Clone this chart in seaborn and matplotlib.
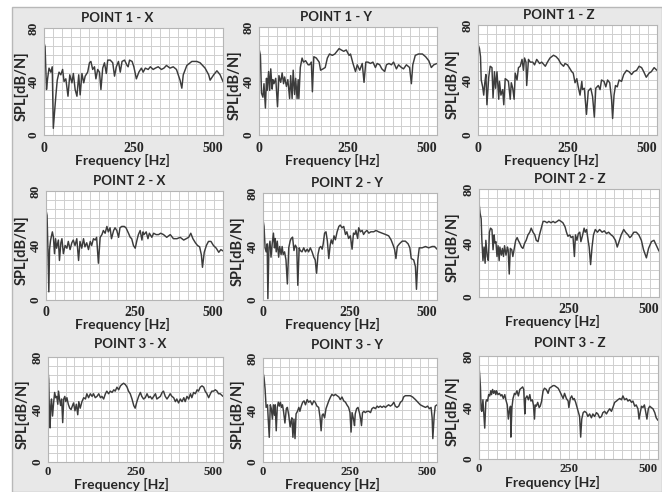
import matplotlib
matplotlib.use("Agg")
import matplotlib.pyplot as plt
from matplotlib.patches import Rectangle
from matplotlib.ticker import MultipleLocator
import matplotlib.transforms as mtransforms
import seaborn as sns

sns.set_style("white")
plt.rcParams["font.family"] = ["Lato", "DejaVu Sans"]

# ---------------- data ----------------
titles = ["POINT 1 - X", "POINT 1 - Y", "POINT 1 - Z",
          "POINT 2 - X", "POINT 2 - Y", "POINT 2 - Z",
          "POINT 3 - X", "POINT 3 - Y", "POINT 3 - Z"]
y_label = "SPL[dB/N]"
x_label = "Frequency [Hz]"
y_ticks = [0, 40, 80]
x_ticks = [0, 250, 500]
x_tick_labels = ["0", "250", "500"]
x_tick_labels_2z = ["", "250", "500"]

f_1x = [0, 3, 7, 10, 14, 19, 23, 26, 33, 37, 42, 47, 52, 56, 61, 67, 72, 78, 82, 87, 92, 97, 101, 106, 111, 115, 122, 127,
        131, 136, 141, 145, 150, 155, 159, 164, 169, 174, 178, 185, 192, 197, 202, 208, 213, 218, 225, 232, 235, 239, 246,
        251, 258, 265, 272, 277, 283, 291, 297, 305, 311, 319, 328, 335, 342, 352, 361, 370, 380, 385, 389, 399, 413, 427,
        436, 450, 460, 464, 474, 483, 492, 500]
s_1x = [69, 66, 34, 42, 50, 47, 51, 5, 29, 41, 47, 45, 49, 40, 42, 29, 45, 39, 46, 34, 29, 45, 30, 46, 39, 44, 47, 54,
        55, 49, 51, 42, 49, 47, 34, 50, 54, 46, 56, 56, 54, 44, 51, 55, 47, 55, 56, 52, 51, 56, 55, 51, 42, 47, 50, 47,
        50, 49, 51, 49, 50, 51, 49, 50, 52, 50, 51, 49, 41, 35, 45, 52, 55, 55, 54, 50, 45, 41, 45, 48, 45, 40]

f_1y = [0, 4, 7, 11, 14, 18, 21, 23, 27, 30, 33, 37, 39, 42, 47, 52, 56, 61, 65, 69, 72, 77, 81, 86, 89, 93, 96, 100,
        103, 107, 110, 112, 116, 121, 125, 131, 138, 142, 147, 150, 154, 161, 169, 173, 180, 186, 192, 198, 206, 213,
        219, 225, 231, 238, 245, 253, 257, 264, 271, 276, 283, 290, 295, 300, 306, 313, 320, 327, 332, 339, 345, 353,
        358, 365, 372, 378, 386, 392, 400, 406, 414, 423, 428, 432, 439, 448, 459, 468, 477, 484, 491, 500]
s_1y = [64, 59, 31, 28, 38, 20, 42, 33, 47, 33, 49, 34, 41, 38, 42, 21, 44, 39, 46, 38, 43, 36, 41, 27, 44, 27, 48, 30,
        42, 27, 41, 27, 50, 57, 54, 55, 52, 52, 54, 32, 58, 57, 54, 48, 49, 50, 57, 60, 59, 60, 62, 64, 63, 62, 63, 59,
        60, 53, 47, 52, 48, 53, 39, 54, 54, 53, 54, 50, 53, 52, 49, 47, 52, 53, 52, 54, 49, 52, 50, 49, 52, 50, 38, 52,
        59, 60, 60, 58, 55, 50, 52, 53]

f_1z = [0, 4, 7, 9, 13, 16, 19, 22, 25, 30, 34, 39, 42, 46, 49, 53, 58, 60, 64, 69, 72, 76, 81, 85, 90, 93, 97, 101,
        104, 109, 113, 118, 123, 127, 130, 134, 136, 141, 146, 153, 158, 164, 172, 178, 188, 194, 201, 211, 218, 225,
        231, 239, 243, 250, 255, 262, 266, 271, 276, 280, 285, 290, 292, 297, 303, 308, 315, 320, 325, 329, 336, 341,
        345, 352, 357, 362, 368, 373, 376, 380, 384, 389, 394, 401, 407, 415, 422, 429, 435, 443, 450, 457, 463, 470,
        478, 484, 492, 500]
s_1z = [66, 63, 57, 40, 35, 29, 38, 44, 22, 42, 50, 49, 27, 46, 34, 46, 26, 39, 29, 33, 22, 41, 40, 39, 26, 38, 34, 26,
        45, 40, 49, 50, 55, 47, 56, 53, 36, 55, 53, 53, 51, 55, 52, 53, 50, 53, 56, 58, 57, 55, 52, 50, 52, 51, 49, 46,
        45, 38, 41, 35, 29, 39, 33, 34, 15, 32, 34, 28, 13, 34, 36, 33, 40, 39, 35, 40, 38, 26, 12, 29, 36, 35, 40, 39,
        44, 47, 46, 44, 46, 47, 50, 49, 46, 42, 45, 46, 49, 47]

f_2x = [0, 3, 5, 8, 10, 13, 18, 21, 24, 27, 30, 35, 38, 42, 45, 49, 54, 59, 63, 68, 73, 77, 82, 87, 92, 96, 101, 106,
        110, 115, 120, 125, 129, 134, 139, 143, 148, 153, 158, 162, 167, 172, 176, 181, 185, 191, 195, 200, 205, 209,
        214, 221, 226, 233, 238, 242, 247, 252, 257, 261, 266, 271, 274, 277, 283, 288, 292, 299, 304, 311, 318, 324,
        332, 341, 351, 360, 370, 379, 389, 396, 403, 409, 415, 422, 428, 434, 439, 442, 447, 453, 459, 466, 473, 481,
        488, 494, 500]
s_2x = [66, 62, 42, 6, 37, 44, 50, 46, 34, 45, 38, 44, 29, 42, 45, 34, 40, 38, 43, 37, 42, 44, 40, 45, 29, 43, 38, 45,
        39, 42, 37, 43, 40, 45, 44, 46, 27, 46, 48, 51, 49, 54, 50, 53, 45, 51, 53, 51, 46, 53, 54, 54, 53, 49, 46, 45,
        40, 38, 44, 48, 51, 44, 50, 48, 50, 45, 49, 46, 49, 48, 48, 49, 48, 46, 48, 45, 45, 46, 44, 45, 46, 49, 45, 42,
        40, 39, 33, 24, 35, 40, 43, 43, 40, 38, 35, 37, 36]

f_2y = [0, 3, 6, 9, 12, 14, 17, 20, 23, 26, 30, 33, 35, 38, 41, 45, 48, 52, 55, 58, 62, 66, 70, 74, 78, 81, 85, 89, 93,
        97, 100, 104, 107, 112, 117, 122, 127, 131, 136, 141, 146, 150, 154, 158, 162, 166, 170, 173, 177, 181, 185,
        189, 193, 196, 200, 204, 208, 213, 218, 222, 227, 232, 237, 241, 246, 251, 256, 260, 264, 267, 272, 275, 280,
        285, 289, 294, 299, 304, 310, 318, 325, 332, 342, 352, 361, 368, 374, 378, 382, 386, 392, 400, 409, 417, 422,
        426, 433, 438, 441, 445, 449, 457, 467, 476, 486, 493, 500]
s_2y = [60, 55, 39, 36, 42, 1, 39, 44, 32, 41, 50, 39, 46, 36, 44, 32, 40, 34, 40, 34, 36, 30, 12, 39, 44, 46, 47, 37,
        41, 39, 11, 39, 37, 36, 39, 36, 38, 36, 39, 36, 32, 30, 20, 34, 39, 40, 38, 42, 50, 51, 44, 31, 41, 45, 42, 48,
        45, 51, 55, 56, 54, 55, 49, 51, 46, 48, 38, 50, 49, 52, 46, 54, 51, 52, 49, 51, 52, 50, 51, 51, 52, 51, 50, 49,
        48, 45, 41, 38, 31, 40, 42, 44, 44, 42, 39, 31, 30, 25, 8, 30, 39, 39, 40, 39, 40, 40, 38]

f_2z = [0, 3, 6, 8, 11, 14, 17, 19, 23, 26, 29, 32, 36, 39, 42, 44, 47, 50, 53, 56, 58, 62, 65, 68, 71, 75, 79, 81, 84,
        87, 91, 94, 98, 102, 106, 109, 113, 118, 122, 127, 131, 136, 141, 145, 150, 155, 159, 164, 168, 173, 178, 183,
        189, 194, 200, 206, 211, 217, 222, 228, 233, 239, 243, 247, 252, 256, 261, 265, 268, 272, 276, 280, 283, 287,
        292, 295, 299, 303, 306, 310, 314, 318, 323, 329, 335, 342, 348, 354, 360, 367, 372, 379, 384, 389, 395, 402,
        407, 414, 419, 423, 430, 437, 444, 451, 457, 465, 471, 479, 486, 493, 500]
s_2z = [70, 62, 58, 42, 27, 37, 25, 42, 30, 27, 48, 51, 50, 35, 46, 40, 41, 30, 38, 27, 37, 31, 36, 30, 38, 31, 37, 35,
        17, 36, 35, 30, 36, 42, 44, 42, 40, 37, 36, 40, 42, 46, 48, 51, 48, 46, 42, 41, 46, 51, 56, 56, 55, 56, 55, 56,
        55, 56, 57, 56, 55, 52, 48, 45, 46, 44, 45, 30, 46, 42, 47, 48, 41, 45, 51, 48, 50, 42, 37, 24, 37, 46, 50, 48,
        50, 48, 49, 47, 48, 46, 45, 42, 37, 41, 46, 50, 48, 46, 44, 45, 48, 48, 46, 42, 35, 29, 36, 41, 42, 38, 34]

f_3x = [0, 2, 4, 6, 8, 10, 13, 16, 19, 22, 25, 28, 30, 33, 36, 39, 42, 45, 48, 51, 54, 58, 62, 66, 70, 73, 77, 81, 85,
        88, 92, 97, 102, 107, 111, 116, 121, 126, 130, 135, 140, 145, 150, 154, 159, 164, 168, 173, 178, 183, 188, 192,
        197, 202, 207, 211, 216, 221, 226, 230, 235, 240, 245, 249, 254, 259, 264, 268, 273, 278, 283, 288, 292, 297,
        302, 307, 311, 316, 321, 326, 330, 335, 340, 345, 349, 354, 359, 364, 368, 373, 378, 383, 388, 392, 397, 402,
        407, 411, 416, 421, 426, 430, 435, 440, 445, 449, 454, 459, 464, 468, 473, 478, 483, 487, 492, 500]
s_3x = [70, 63, 38, 26, 43, 48, 35, 45, 53, 49, 50, 44, 54, 48, 43, 48, 30, 48, 50, 46, 49, 44, 41, 40, 43, 45, 39, 44,
        36, 46, 41, 46, 49, 48, 52, 49, 52, 50, 52, 49, 50, 52, 49, 50, 48, 52, 54, 52, 54, 53, 55, 54, 57, 55, 58, 59,
        60, 59, 57, 54, 52, 48, 43, 41, 46, 50, 53, 50, 48, 49, 52, 49, 50, 48, 50, 52, 48, 49, 50, 53, 54, 50, 48, 50,
        52, 50, 49, 46, 48, 45, 48, 46, 49, 46, 50, 48, 52, 49, 53, 52, 55, 54, 57, 58, 57, 54, 52, 49, 52, 54, 54, 55,
        54, 52, 52, 50]

f_3y = [0, 3, 6, 9, 13, 15, 18, 21, 24, 27, 30, 33, 35, 38, 41, 44, 47, 50, 53, 56, 59, 63, 67, 70, 74, 78, 81, 83, 86,
        89, 92, 95, 99, 103, 106, 110, 114, 118, 122, 127, 131, 136, 141, 146, 150, 155, 160, 164, 167, 170, 173, 177,
        181, 185, 189, 194, 198, 203, 208, 213, 218, 222, 227, 232, 237, 241, 246, 250, 253, 256, 260, 263, 265, 269,
        273, 277, 280, 283, 286, 290, 294, 299, 304, 309, 313, 318, 323, 328, 332, 337, 342, 347, 352, 356, 361, 366,
        371, 376, 380, 385, 390, 395, 400, 404, 409, 416, 423, 430, 438, 445, 452, 459, 467, 473, 478, 483, 486, 488,
        492, 495, 500]
s_3y = [69, 65, 56, 42, 44, 33, 19, 44, 41, 33, 44, 36, 44, 24, 42, 46, 43, 46, 42, 44, 39, 30, 41, 42, 36, 27, 32, 34,
        19, 33, 18, 37, 39, 42, 39, 43, 46, 47, 44, 48, 46, 47, 44, 47, 46, 43, 42, 34, 24, 36, 37, 34, 41, 44, 47, 50,
        52, 51, 52, 51, 50, 48, 50, 47, 46, 44, 42, 38, 23, 38, 33, 28, 37, 41, 42, 38, 34, 28, 38, 39, 38, 39, 39, 38,
        41, 42, 41, 43, 42, 43, 42, 43, 42, 43, 44, 43, 44, 46, 43, 42, 43, 46, 47, 50, 51, 51, 51, 50, 48, 46, 44, 43,
        42, 43, 41, 42, 34, 18, 36, 43, 44]

f_3z = [0, 2, 4, 6, 8, 11, 14, 16, 19, 21, 24, 27, 30, 33, 35, 38, 41, 44, 47, 49, 53, 57, 61, 64, 68, 72, 75, 79, 82,
        85, 88, 89, 92, 95, 99, 102, 106, 110, 114, 118, 122, 125, 128, 130, 134, 138, 142, 145, 149, 152, 155, 157,
        160, 164, 168, 171, 175, 179, 183, 188, 193, 197, 202, 207, 211, 216, 221, 225, 230, 235, 239, 244, 249, 251,
        255, 259, 263, 266, 270, 274, 277, 281, 284, 287, 291, 295, 300, 304, 309, 314, 318, 323, 328, 332, 337, 342,
        346, 351, 356, 360, 365, 370, 374, 379, 384, 388, 393, 398, 402, 407, 412, 416, 421, 426, 430, 435, 439, 444,
        447, 451, 454, 458, 462, 466, 469, 473, 477, 481, 486, 491, 495, 500]
s_3z = [72, 65, 56, 38, 37, 46, 33, 24, 44, 46, 45, 50, 49, 53, 50, 54, 51, 53, 50, 53, 50, 51, 49, 50, 47, 50, 46, 42,
        31, 38, 41, 17, 40, 47, 51, 50, 53, 49, 54, 55, 56, 54, 35, 47, 49, 46, 50, 45, 46, 42, 31, 42, 41, 44, 40, 41,
        45, 53, 55, 54, 51, 55, 56, 57, 57, 56, 55, 53, 50, 47, 51, 47, 45, 40, 47, 49, 46, 47, 44, 40, 37, 33, 17, 31,
        36, 37, 36, 33, 35, 32, 35, 33, 36, 35, 32, 33, 36, 37, 35, 37, 39, 37, 40, 44, 45, 46, 47, 46, 49, 46, 47, 45,
        46, 44, 45, 41, 42, 39, 31, 37, 41, 40, 42, 36, 31, 39, 41, 40, 39, 36, 32, 30]

freqs = [f_1x, f_1y, f_1z, f_2x, f_2y, f_2z, f_3x, f_3y, f_3z]
spls = [s_1x, s_1y, s_1z, s_2x, s_2y, s_2z, s_3x, s_3y, s_3z]

# ---------------- layout (pixels: left, top, right, bottom) ----------------
W, H = 662, 492
boxes = [(44, 28, 223, 135), (259, 27, 437, 135), (478, 25, 657, 135),
         (46, 191, 223, 300), (263, 193, 437, 300), (479, 189, 659, 297),
         (48, 357, 223, 462), (263, 358, 437, 462), (479, 356, 658, 459)]
title_x = [0.41, 0.43, 0.45, 0.47, 0.48, 0.505, 0.47, 0.48, 0.51]
title_gap = [11, 11, 11, 11, 11, 11, 14, 14, 14]
xlab_x = [0.44, 0.41, 0.41, 0.43, 0.40, 0.41, 0.42, 0.40, 0.41]
xlab_gap = [25, 25, 25, 24.5, 24.5, 24.5, 22.5, 22.5, 23.5]
xtick_pad = [2.5, 2.5, 2.5, 1.8, 1.8, 1.8, 0.2, 0.2, 0.2]
xtick_size = [10, 10, 10, 10, 10, 10, 9.2, 9.2, 9.2]
ylab_gap = [22, 24, 25, 24, 25, 26, 25, 25, 26]

fig = plt.figure(figsize=(W / 100, H / 100), dpi=100, facecolor="white")
bg = Rectangle((12 / W, 0), 1 - 12 / W, 1 - 7 / H, transform=fig.transFigure,
               facecolor="#e8e8e8", edgecolor="#b8b8b8", linewidth=1.0, zorder=-10)
fig.patches.append(bg)

line_color = "#3c3c3c"
serif_bold_y = dict(family="Liberation Serif", weight="bold", size=9.5)

for i in range(9):
    l, t, r, b = boxes[i]
    w, h = r - l, b - t
    ax = fig.add_axes([l / W, 1 - b / H, w / W, h / H])
    ax.set_zorder(1)
    ax.set_facecolor("white")
    sns.lineplot(x=freqs[i], y=spls[i], ax=ax, color=line_color, linewidth=1.05, estimator=None)
    ax.set_xlim(0, 500)
    ax.set_ylim(0, 80)
    ax.xaxis.set_minor_locator(MultipleLocator(25))
    ax.yaxis.set_minor_locator(MultipleLocator(80 / 12))
    ax.grid(which="minor", color="#cfcfcf", linewidth=0.7)
    ax.grid(which="major", color="#cfcfcf", linewidth=0.7)
    ax.set_axisbelow(True)
    for sp in ax.spines.values():
        sp.set_color("#b5b5b5")
        sp.set_linewidth(0.8)

    ax.set_yticks(y_ticks)
    ax.set_yticklabels([str(v) for v in y_ticks], rotation=90, va="center", **serif_bold_y)
    ax.set_xticks(x_ticks)
    ax.set_xticklabels(x_tick_labels_2z if i == 5 else x_tick_labels,
                       family="Liberation Serif", weight="bold", size=xtick_size[i])
    xl = ax.get_xticklabels()
    xl[-1].set_horizontalalignment("right")
    xl[-1].set_transform(xl[-1].get_transform() + mtransforms.ScaledTranslation(4 / 100, 0, fig.dpi_scale_trans))
    xl[1].set_transform(xl[1].get_transform() + mtransforms.ScaledTranslation(3 / 100, 0, fig.dpi_scale_trans))
    ax.tick_params(axis="both", which="major", direction="inout", length=5, width=2,
                   color="black", pad=0.6)
    ax.tick_params(axis="x", which="major", pad=xtick_pad[i])
    ax.tick_params(which="minor", length=0)

    ax.set_title(titles[i], x=title_x[i], fontsize=9.5, fontweight="bold",
                 pad=title_gap[i] * 0.72 - 3.3, family=["Lato", "DejaVu Sans"])
    ax.set_xlabel(x_label, fontsize=10, fontweight="bold")
    ax.xaxis.label.set_verticalalignment("center")
    ax.xaxis.set_label_coords(xlab_x[i], -xlab_gap[i] / h)
    ax.set_ylabel(y_label, fontsize=10.5, fontweight="bold")
    ax.yaxis.label.set_verticalalignment("center")
    ax.yaxis.set_label_coords(-ylab_gap[i] / w, 0.46)

fig.savefig("out.png", dpi=100, facecolor=fig.get_facecolor())
